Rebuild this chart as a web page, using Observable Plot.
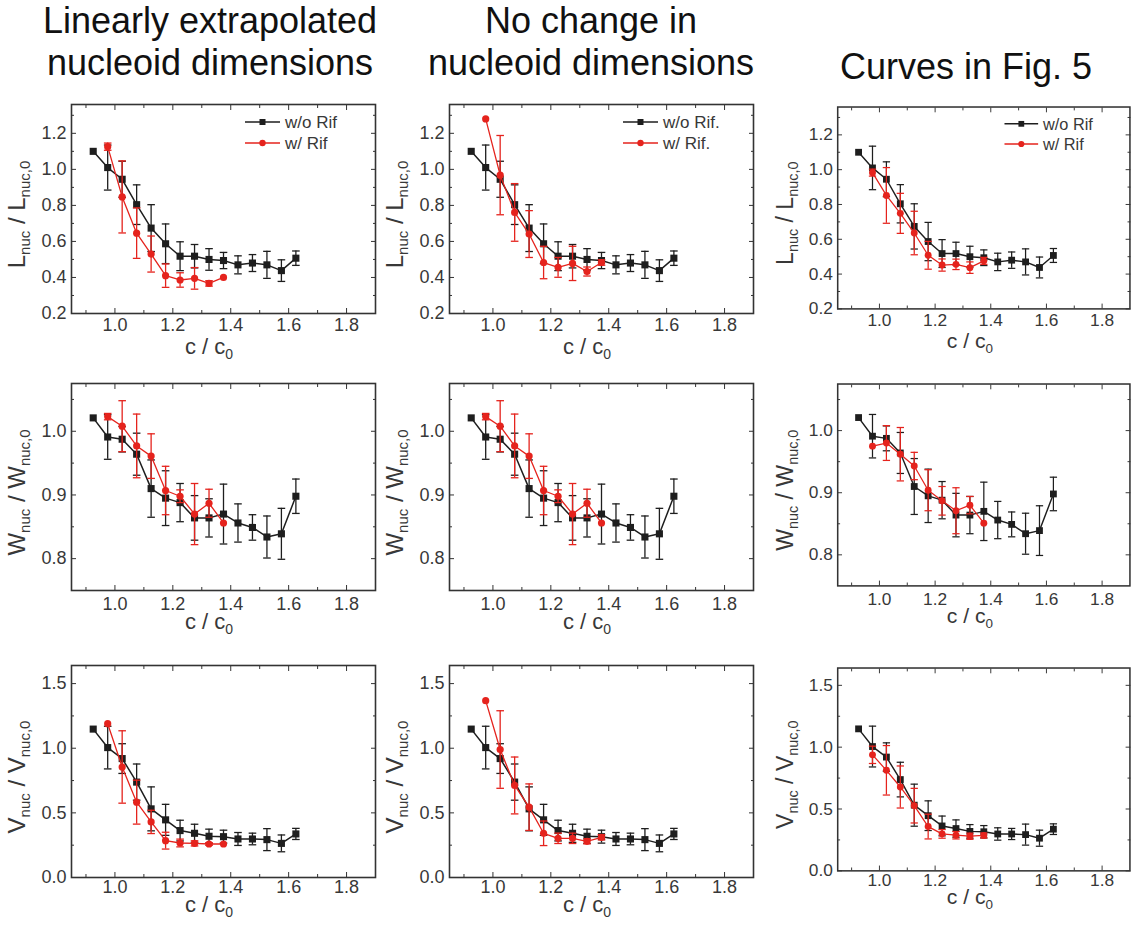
<!DOCTYPE html>
<html><head><meta charset="utf-8">
<script src="https://cdn.jsdelivr.net/npm/d3@7"></script>
<script src="https://cdn.jsdelivr.net/npm/@observablehq/plot@0.6"></script>
<style>
body{margin:0;background:#fff;}
#root{position:relative;width:1141px;height:930px;overflow:hidden;background:#fff;font-family:"Liberation Sans",Arial,sans-serif;}
.title{position:absolute;width:500px;font-size:36px;line-height:42px;text-align:center;color:#111;white-space:nowrap;}
.cell{position:absolute;}
</style></head><body><div id="root"></div>
<script>
// ---------- data ----------
const columnTitles = [["Linearly extrapolated", "nucleoid dimensions"], ["No change in", "nucleoid dimensions"], ["Curves in Fig. 5"]];
const legendLabels = [["w/o Rif", "w/ Rif"], ["w/o Rif.", "w/ Rif."], ["w/o Rif", "w/ Rif"]];
const xTickLabels = [1.0, 1.2, 1.4, 1.6, 1.8];

const xBlack = [0.925, 0.975, 1.025, 1.075, 1.125, 1.175, 1.225, 1.275, 1.325, 1.375, 1.425, 1.475, 1.525, 1.575, 1.625];
const xRed = [0.975, 1.025, 1.075, 1.125, 1.175, 1.225, 1.275, 1.325, 1.375];

// length
const L_woRif = [1.10, 1.01, 0.945, 0.804, 0.674, 0.587, 0.518, 0.518, 0.50, 0.494, 0.47, 0.48, 0.47, 0.438, 0.507];
const L_woRif_err = [0, 0.125, 0.10, 0.11, 0.13, 0.11, 0.08, 0.065, 0.06, 0.045, 0.05, 0.047, 0.075, 0.06, 0.04];
const L_wRif_linear = [1.126, 0.847, 0.646, 0.53, 0.41, 0.386, 0.395, 0.367, 0.40];
const L_wRif_linear_err = [0.02, 0.2, 0.14, 0.1, 0.065, 0.04, 0.06, 0.015, 0];
const L_wRif_noChange = [1.28, 0.968, 0.761, 0.641, 0.483, 0.456, 0.478, 0.433, 0.483];
const L_wRif_noChange_err = [0, 0.22, 0.16, 0.13, 0.09, 0.055, 0.095, 0.025, 0.015];
const L_wRif_fig5 = [0.983, 0.852, 0.749, 0.636, 0.508, 0.452, 0.456, 0.437, 0.476];
const L_wRif_fig5_err = [0.02, 0.16, 0.115, 0.125, 0.08, 0.035, 0.03, 0.033, 0.02];

// width
const W_woRif = [1.021, 0.991, 0.9875, 0.964, 0.910, 0.895, 0.888, 0.864, 0.864, 0.870, 0.856, 0.849, 0.834, 0.839, 0.898];
const W_woRif_err = [0, 0.035, 0.02, 0.033, 0.045, 0.043, 0.03, 0.035, 0.03, 0.047, 0.03, 0.02, 0.033, 0.04, 0.027];
const W_wRif_linear = [1.023, 1.008, 0.977, 0.961, 0.907, 0.898, 0.870, 0.887, 0.856];
const W_wRif_linear_err = [0.005, 0.04, 0.05, 0.035, 0.038, 0.01, 0.048, 0.022, 0];
const W_wRif_noChange = [1.023, 1.008, 0.977, 0.961, 0.907, 0.898, 0.870, 0.887, 0.856];
const W_wRif_noChange_err = [0.005, 0.04, 0.05, 0.035, 0.038, 0.01, 0.048, 0.022, 0];
const W_wRif_fig5 = [0.975, 0.980, 0.962, 0.943, 0.904, 0.887, 0.871, 0.880, 0.851];
const W_wRif_fig5_err = [0, 0.028, 0.043, 0.022, 0.033, 0.023, 0.037, 0.014, 0];

// volume
const V_woRif = [1.148, 1.005, 0.92, 0.738, 0.531, 0.446, 0.363, 0.342, 0.319, 0.316, 0.298, 0.298, 0.293, 0.264, 0.337];
const V_woRif_err = [0, 0.165, 0.115, 0.14, 0.17, 0.12, 0.08, 0.07, 0.055, 0.05, 0.05, 0.045, 0.085, 0.065, 0.043];
const V_wRif_linear = [1.19, 0.855, 0.583, 0.43, 0.285, 0.267, 0.264, 0.259, 0.259];
const V_wRif_linear_err = [0, 0.28, 0.17, 0.09, 0.065, 0.03, 0.02, 0.01, 0];
const V_wRif_noChange = [1.368, 0.99, 0.712, 0.544, 0.342, 0.303, 0.303, 0.28, 0.311];
const V_wRif_noChange_err = [0, 0.3, 0.22, 0.18, 0.095, 0.04, 0.04, 0.02, 0.02];
const V_wRif_fig5 = [0.938, 0.813, 0.678, 0.527, 0.358, 0.299, 0.288, 0.28, 0.286];
const V_wRif_fig5_err = [0.07, 0.2, 0.17, 0.14, 0.1, 0.035, 0.03, 0.025, 0.02];

// ---------- layout ----------
const xDomain = [0.85, 1.9];
const xMinor = [0.9, 1.1, 1.3, 1.5, 1.7];
const rowsCfg = [
  {sym: "L", domain: [0.2, 1.36], ticks: [0.2, 0.4, 0.6, 0.8, 1.0, 1.2], minor: [0.3, 0.5, 0.7, 0.9, 1.1, 1.3], fmt: ".1f",
   black: L_woRif, blackErr: L_woRif_err,
   red: [L_wRif_linear, L_wRif_noChange, L_wRif_fig5], redErr: [L_wRif_linear_err, L_wRif_noChange_err, L_wRif_fig5_err]},
  {sym: "W", domain: [0.75, 1.075], ticks: [0.8, 0.9, 1.0], minor: [0.85, 0.95, 1.05], fmt: ".1f",
   black: W_woRif, blackErr: W_woRif_err,
   red: [W_wRif_linear, W_wRif_noChange, W_wRif_fig5], redErr: [W_wRif_linear_err, W_wRif_noChange_err, W_wRif_fig5_err]},
  {sym: "V", domain: [0, 1.64], ticks: [0, 0.5, 1.0, 1.5], minor: [0.25, 0.75, 1.25], fmt: ".1f",
   black: V_woRif, blackErr: V_woRif_err,
   red: [V_wRif_linear, V_wRif_noChange, V_wRif_fig5], redErr: [V_wRif_linear_err, V_wRif_noChange_err, V_wRif_fig5_err]}
];
const frameLeft = [71, 449, 840];
const frameW = 304;
const frameTB = [
  [[104, 313], [104, 313], [107, 317]],
  [[383, 590], [383, 590], [384, 594]],
  [[665, 877], [665, 877], [668, 879]]
];
const xTickPad = [5, 7, 3];
const xLabelOff = [41, 39, 35];
const titleCenter = [210, 591, 966];
const titleTop = [0, 0, 46];

const BLACK = "#1e1e1e", RED = "#e5231d", AXIS = "#333", TXT = "#383838";
const FONT = "'Liberation Sans', Arial, sans-serif";
const capSymbol = {draw(ctx, size) { const w = Math.sqrt(size / Math.PI); ctx.moveTo(-w, 0); ctx.lineTo(w, 0); }};

const root = document.getElementById("root");

columnTitles.forEach((lines, c) => {
  const d = document.createElement("div");
  d.className = "title";
  d.style.left = (titleCenter[c] - 250) + "px";
  d.style.top = titleTop[c] + "px";
  d.innerHTML = lines.join("<br>");
  root.appendChild(d);
});

const mL = 72, mT = 12, mR = 12, mB = 62;

rowsCfg.forEach((rc, r) => {
  for (let c = 0; c < 3; c++) {
    const [ft, fb] = frameTB[r][c];
    const fh = fb - ft;
    const fl = frameLeft[c];
    const bd = xBlack.map((x, i) => ({x, y: rc.black[i], e: rc.blackErr[i]}));
    const rd = xRed.map((x, i) => ({x, y: rc.red[c][i], e: rc.redErr[c][i]}));
    const bErr = bd.filter(d => d.e > 0), rErr = rd.filter(d => d.e > 0);
    const errMarks = (data, color) => [
      Plot.ruleX(data, {x: "x", y1: d => d.y - d.e, y2: d => d.y + d.e, stroke: color, strokeWidth: 1.3}),
      Plot.dot(data, {x: "x", y: d => d.y + d.e, symbol: capSymbol, r: 3.8, stroke: color, strokeWidth: 1.3}),
      Plot.dot(data, {x: "x", y: d => d.y - d.e, symbol: capSymbol, r: 3.8, stroke: color, strokeWidth: 1.3})
    ];
    const plot = Plot.plot({
      width: mL + frameW + mR, height: mT + fh + mB,
      marginLeft: mL, marginRight: mR, marginTop: mT, marginBottom: mB,
      x: {domain: xDomain},
      y: {domain: rc.domain},
      style: {fontFamily: FONT, fontSize: "18px", color: TXT, background: "transparent", overflow: "visible"},
      marks: [
        Plot.axisX(xTickLabels, {anchor: "bottom", tickSize: 0, tickPadding: xTickPad[r], tickFormat: d3.format(".1f"), label: null, fill: TXT}),
        Plot.axisY(rc.ticks, {anchor: "left", tickSize: 0, tickPadding: 5, tickFormat: d3.format(rc.fmt), label: null, fill: TXT}),
        Plot.axisX(xTickLabels, {anchor: "bottom", tickSize: -5, fill: "none", stroke: AXIS, label: null}),
        Plot.axisX(xTickLabels, {anchor: "top", tickSize: -5, fill: "none", stroke: AXIS, label: null}),
        Plot.axisX(xMinor, {anchor: "bottom", tickSize: -3, fill: "none", stroke: AXIS, label: null}),
        Plot.axisX(xMinor, {anchor: "top", tickSize: -3, fill: "none", stroke: AXIS, label: null}),
        Plot.axisY(rc.ticks, {anchor: "left", tickSize: -5, fill: "none", stroke: AXIS, label: null}),
        Plot.axisY(rc.ticks, {anchor: "right", tickSize: -5, fill: "none", stroke: AXIS, label: null}),
        Plot.axisY(rc.minor, {anchor: "left", tickSize: -3, fill: "none", stroke: AXIS, label: null}),
        Plot.axisY(rc.minor, {anchor: "right", tickSize: -3, fill: "none", stroke: AXIS, label: null}),
        Plot.frame({stroke: AXIS, strokeWidth: 1.6}),
        ...errMarks(bErr, BLACK),
        Plot.line(bd, {x: "x", y: "y", stroke: BLACK, strokeWidth: 1.5}),
        Plot.dot(bd, {x: "x", y: "y", symbol: "square", r: 4, fill: BLACK}),
        ...errMarks(rErr, RED),
        Plot.line(rd, {x: "x", y: "y", stroke: RED, strokeWidth: 1.3}),
        Plot.dot(rd, {x: "x", y: "y", symbol: "circle", r: 3.6, fill: RED})
      ]
    });
    const cell = document.createElement("div");
    cell.className = "cell";
    cell.style.left = (fl - mL) + "px";
    cell.style.top = (ft - mT) + "px";
    cell.appendChild(plot);
    root.appendChild(cell);

    const svg = d3.select(plot.tagName.toLowerCase() === "svg" ? plot : plot.querySelector("svg"));
    // y axis label with subscripts
    const yl = svg.append("text")
      .attr("transform", `translate(${mL - 46},${mT + fh / 2 + 6}) rotate(-90)`)
      .attr("text-anchor", "middle").attr("fill", TXT)
      .style("font-size", "24px").style("font-family", FONT);
    yl.append("tspan").text(rc.sym);
    yl.append("tspan").attr("dy", 5).style("font-size", "15px").text("nuc");
    yl.append("tspan").attr("dy", -5).text(" / " + rc.sym);
    yl.append("tspan").attr("dy", 5).style("font-size", "15px").text("nuc,0");
    // x axis label
    const xl = svg.append("text")
      .attr("x", mL + frameW / 2 - 14).attr("y", mT + fh + xLabelOff[r])
      .attr("text-anchor", "middle").attr("fill", TXT)
      .style("font-size", "22px").style("font-family", FONT);
    xl.append("tspan").text("c / c");
    xl.append("tspan").attr("dy", 5).style("font-size", "14px").text("0");
    // legend (first row only)
    if (r === 0) {
      const fr = mL + frameW;
      const items = [{label: legendLabels[c][0], color: BLACK, sq: true}, {label: legendLabels[c][1], color: RED, sq: false}];
      items.forEach((it, k) => {
        const y = mT + 18 + k * 21;
        const g = svg.append("g");
        g.append("line").attr("x1", fr - 130).attr("x2", fr - 95).attr("y1", y).attr("y2", y).attr("stroke", it.color).attr("stroke-width", 1.5);
        if (it.sq) g.append("rect").attr("x", fr - 115.5).attr("y", y - 3).attr("width", 6).attr("height", 6).attr("fill", it.color);
        else g.append("circle").attr("cx", fr - 112.5).attr("cy", y).attr("r", 3.2).attr("fill", it.color);
        g.append("text").attr("x", fr - 90).attr("y", y + 6).attr("fill", TXT).attr("text-anchor", "start")
          .style("font-size", "17px").style("font-family", FONT).text(it.label);
      });
    }
  }
});
</script></body></html>
